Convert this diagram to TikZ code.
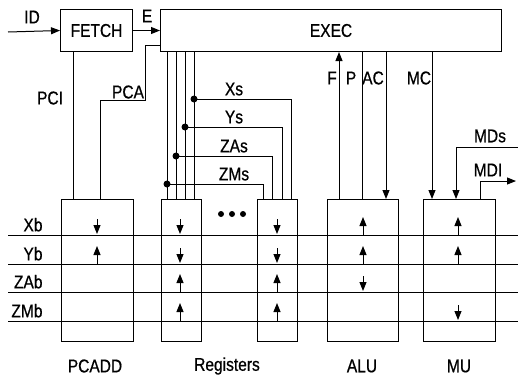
\documentclass[tikz,border=0pt]{standalone}
\usepackage{fontspec}
\setmainfont{Liberation Sans}[FakeStretch=0.84,FakeBold=0.6]
\usetikzlibrary{arrows.meta,positioning}

\begin{document}
\begin{tikzpicture}[x=1pt,y=-1pt,line width=1pt,
  tip/.style={-{Triangle[length=9pt,width=7pt]}},
  unitbox/.style={draw,anchor=north west,inner sep=0pt,minimum width=#1,minimum height=142pt},
  ctrlbox/.style={draw,anchor=north west,inner sep=0pt,minimum width=#1,minimum height=42pt},
  lbl/.style={inner sep=0pt,font=\fontsize{18.5}{20}\selectfont}]
\useasboundingbox (0,0) rectangle (518,376);

% control part
\node[ctrlbox=72pt,lbl] (fetch) at (60,9) {FETCH};
\node[ctrlbox=341pt,lbl] (exec) at (160,9) {EXEC};

% function units
\node[unitbox=72pt] (pcadd) at (61,199) {};
\node[unitbox=40pt] (rega) at (161,199) {};
\node[unitbox=40pt] (regb) at (257,199) {};
\node[unitbox=71pt] (alu) at (327,199) {};
\node[unitbox=72pt] (mu) at (423,199) {};
\foreach \x in {221,232,243} \fill (\x,214) circle (3pt);

\node[lbl] (pcaddname) at (95,366) {PCADD};
\node[lbl] (regname) at (227,366) {Registers};
\node[lbl] (aluname) at (362,366) {ALU};
\node[lbl] (muname) at (459,366) {MU};

% buses
\foreach \y/\t in {235/Xb,264/Yb,292/ZAb,321/ZMb} {
  \coordinate (\t-w) at (8,\y);
  \coordinate (\t-e) at (518,\y);
  \draw (\t-w) -- (\t-e);
  \node[lbl,anchor=south east] at (43,\y-3) {\t};
}
\foreach \x/\y in {97/235,180/235,180/264,277/235,277/264,363/292,458/321}
  \draw[tip] (\x,\y-16) -- (\x,\y-1);
\foreach \x/\y in {97/264,180/292,180/321,277/292,277/321,363/235,363/264,458/235,458/264}
  \draw[tip] (\x,\y) -- (\x,\y-18);

% fetch and exec
\coordinate (idin) at (8,32);
\draw[tip] (idin) -- (fetch.west);
\node[lbl] at (32,17) {ID};
\draw[tip] (fetch.east) -- (exec.west |- fetch.east);
\node[lbl] at (147,16) {E};

\draw (73,0 |- fetch.south) -- (73,0 |- pcadd.north);
\node[lbl] at (50,98) {PCI};
\draw (exec.west |- 0,45) -- (145,45) -- (145,100) -- (100,100) -- (100,0 |- pcadd.north);
\node[lbl] at (128,92) {PCA};

% register selects
\foreach \x in {167,176,185,194}
  \draw (\x,0 |- exec.south) -- (\x,0 |- rega.north);
\foreach \x/\y/\r/\t in {194/99/291/Xs,185/127/282/Ys,176/156/272/ZAs,167/184/263/ZMs} {
  \fill (\x,\y) circle (3.5pt);
  \draw (\x,\y) -- (\r,\y) -- (\r,0 |- regb.north);
  \node[lbl,anchor=south] at (234,\y-3) {\t};
}

% alu and mu controls
\draw[tip] (339,0 |- alu.north) -- (339,0 |- exec.south);
\draw (362,0 |- exec.south) -- (362,0 |- alu.north);
\draw[tip] (386,0 |- exec.south) -- (386,0 |- alu.north);
\draw[tip] (432,0 |- exec.south) -- (432,0 |- mu.north);
\node[lbl] at (332,78) {F};
\node[lbl] at (351,78) {P};
\node[lbl] at (373,78) {AC};
\node[lbl] at (419,78) {MC};

\coordinate (mdsin) at (518,147);
\coordinate (mdiout) at (516,181);
\draw[tip] (mdsin) -- (456,147) -- (456,0 |- mu.north);
\node[lbl] at (490,136) {MDs};
\draw[tip] (480,0 |- mu.north) -- (480,181) -- (mdiout);
\node[lbl] at (488,170) {MDI};
\end{tikzpicture}
\end{document}
